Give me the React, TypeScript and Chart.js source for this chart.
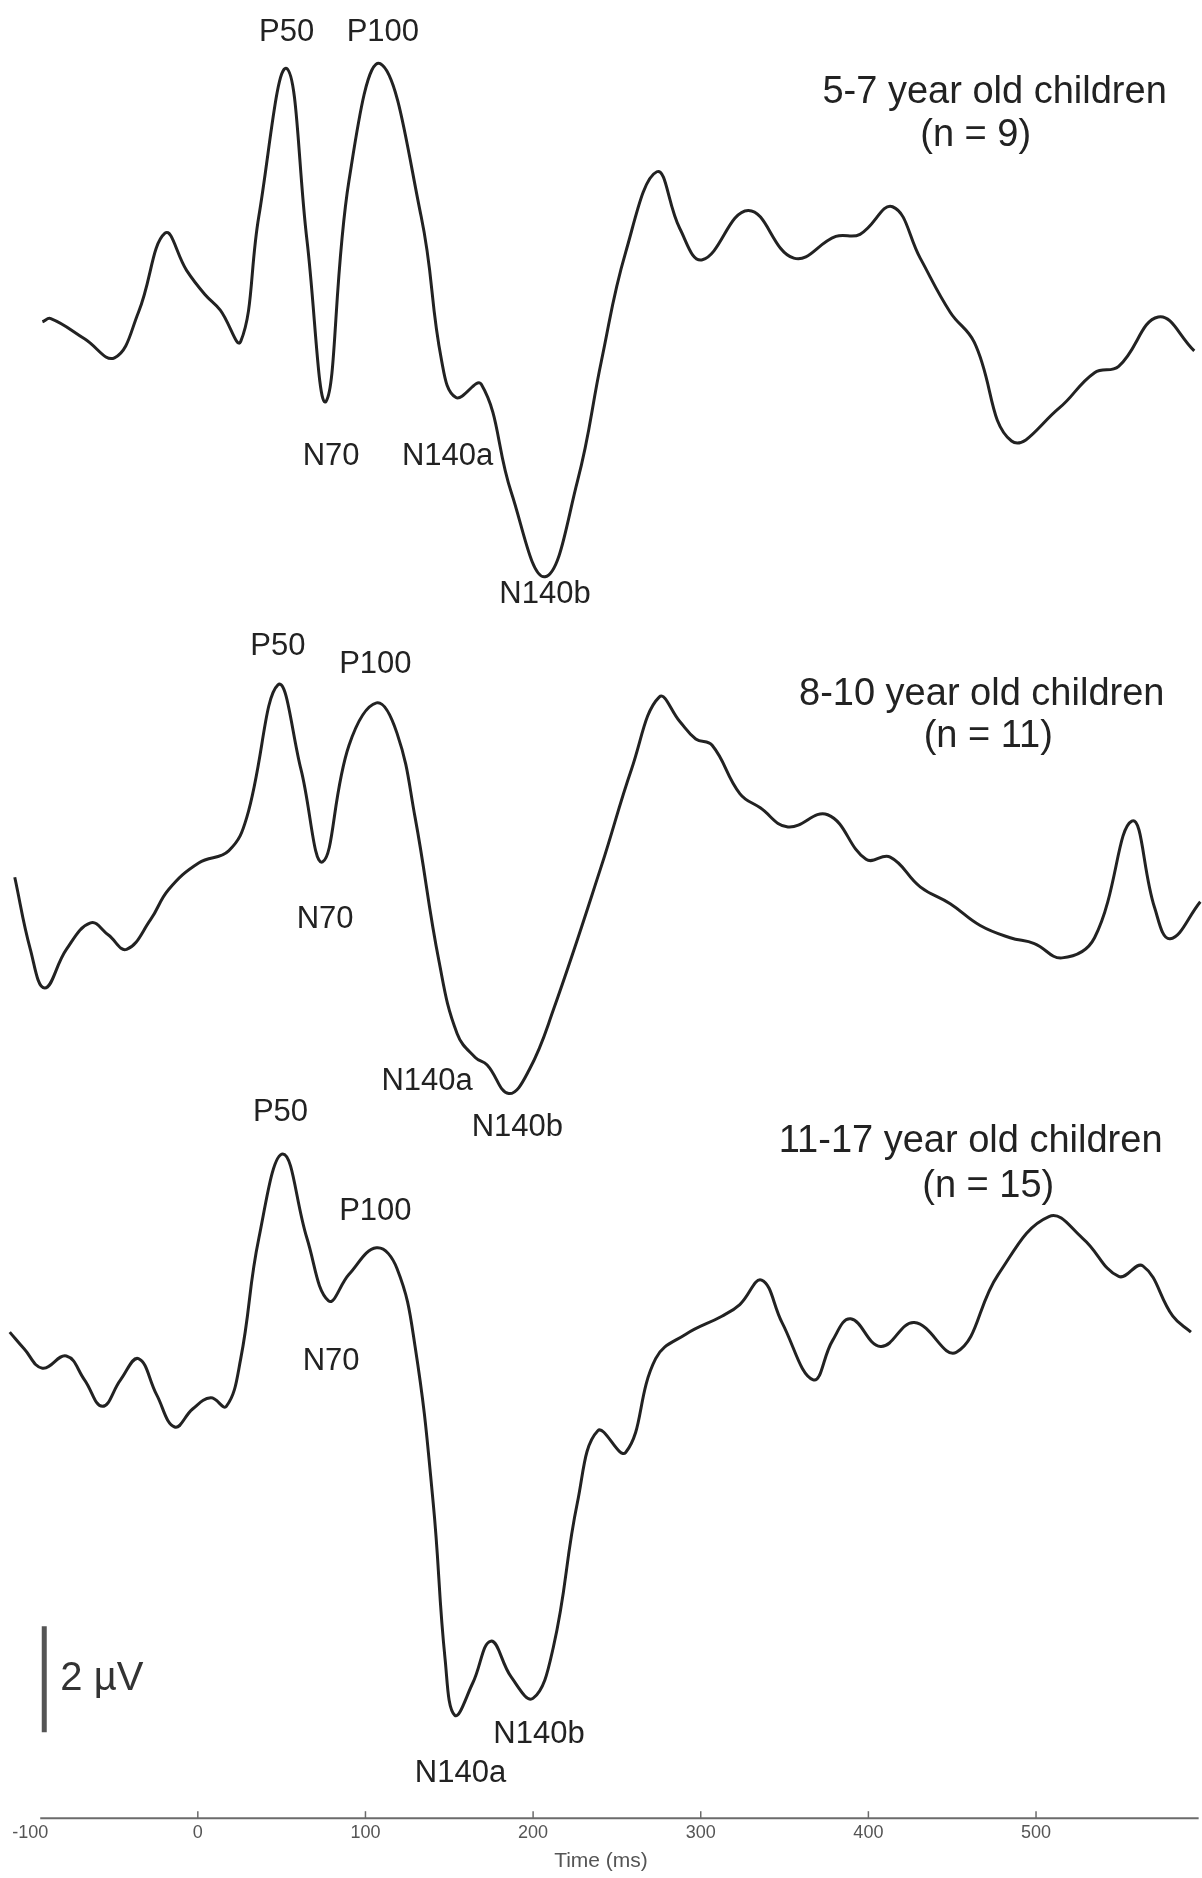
import React, { useEffect, useRef } from "react";
import { Chart, registerables } from "chart.js";

Chart.register(...registerables);

// ---------- data (time in ms, amplitude in µV relative to pre-stimulus level) ----------
const time57 = [-92.7, -87.7, -67.6, -49.7, -35.4, -19.6, -6.7, 4.1, 13.4, 25.6, 36.4, 52.9, 65.1, 76.5, 90.2, 108.8, 133.2, 145.4, 154.0, 169.1, 187.0, 207.1, 226.5, 240.8, 255.2, 273.8, 287.5, 301.0, 328.3, 355.5, 380.6, 395.0, 414.4, 430.9, 448.8, 463.2, 485.4, 513.4, 534.9, 549.3, 572.9, 594.4];
const uv57 = [0.05, 0.11, -0.27, -0.63, 0.23, 1.72, 1.02, 0.57, 0.27, -0.32, 2.04, 4.83, 1.59, -1.45, 2.72, 4.92, 2.04, -0.68, -1.38, -1.13, -3.17, -4.76, -2.95, -0.68, 1.36, 2.88, 1.81, 1.22, 2.15, 1.25, 1.66, 1.70, 2.22, 1.25, 0.23, -0.34, -2.20, -1.59, -0.91, -0.79, 0.14, -0.50];

const time810 = [-109.2, -99.9, -91.3, -78.4, -64.0, -53.3, -42.5, -28.2, -17.4, 0.5, 18.4, 29.2, 47.8, 61.5, 74.4, 90.2, 106.6, 118.8, 129.6, 143.9, 154.7, 165.5, 172.6, 185.5, 197.7, 212.1, 240.8, 258.7, 275.2, 287.5, 297.0, 306.8, 323.3, 335.5, 352.0, 375.7, 398.6, 413.0, 430.9, 448.8, 466.7, 484.6, 499.0, 515.5, 534.9, 557.1, 570.7, 580.0, 598.0];
const uv810 = [0.91, -0.45, -1.18, -0.45, 0.05, -0.18, -0.45, 0.11, 0.68, 1.18, 1.41, 2.04, 4.54, 2.95, 1.20, 3.40, 4.20, 3.63, 2.04, -0.68, -2.04, -2.49, -2.63, -3.17, -2.72, -1.59, 1.13, 2.95, 4.31, 3.85, 3.52, 3.40, 2.49, 2.22, 1.86, 2.09, 1.25, 1.29, 0.73, 0.41, 0.0, -0.23, -0.34, -0.61, -0.23, 1.97, 0.34, -0.25, 0.45];

const time1117 = [-112.2, -103.5, -92.7, -78.4, -67.6, -56.9, -46.1, -35.4, -24.6, -13.8, -3.1, 7.7, 17.0, 25.6, 36.4, 50.7, 65.1, 78.0, 90.2, 106.6, 118.8, 129.6, 140.4, 147.5, 153.3, 164.0, 174.8, 187.0, 199.9, 212.1, 226.4, 238.6, 255.2, 273.1, 291.1, 312.6, 323.3, 336.3, 348.5, 367.1, 378.6, 389.4, 407.3, 427.4, 452.5, 477.5, 507.7, 527.8, 549.3, 563.7, 581.6, 592.4];
const uv1117 = [0.95, 0.63, 0.27, 0.50, 0.05, -0.45, 0.05, 0.45, -0.23, -0.84, -0.50, -0.29, -0.45, 0.45, 2.72, 4.31, 2.72, 1.54, 2.04, 2.54, 2.15, 0.68, -2.27, -5.22, -6.28, -5.67, -4.88, -5.56, -5.96, -4.99, -2.27, -0.91, -1.32, 0.45, 0.91, 1.25, 1.47, 1.93, 1.13, 0.05, 0.79, 1.20, 0.68, 1.13, 0.57, 2.04, 3.13, 2.72, 2.00, 2.20, 1.25, 0.95];

const xTicks = [-100, 0, 100, 200, 300, 400, 500];

// component labels
const peakNames = ["P50", "P100", "N70", "N140a", "N140b"];
const peakTime57 = [53.0, 110.4, 79.5, 149.0, 207.1];
const peakUv57 = [5.51, 5.51, -2.49, -2.49, -5.10];
const peakTime810 = [47.8, 105.9, 75.9, 136.8, 190.6];
const peakUv810 = [5.26, 4.92, 0.11, -2.95, -3.81];
const peakTime1117 = [49.3, 105.9, 79.5, 156.7, 203.5];
const peakUv1117 = [5.10, 3.22, 0.39, -7.37, -6.64];

// group titles
const groupTitles = ["5-7 year old children", "8-10 year old children", "11-17 year old children"];
const groupN = ["(n = 9)", "(n = 11)", "(n = 15)"];
const titleTime = [475.3, 467.6, 461.0];
const titleUv = [4.38, 4.35, 4.54];
const nTime = [464.0, 471.5, 471.5];
const nUv = [3.56, 3.56, 3.70];

// 2 µV calibration bar (drawn on the bottom panel's scale)
const scaleBarTime = [-91.6, -91.6];
const scaleBarUv = [-4.6, -6.6];
const scaleBarLabel = "2 µV";
const scaleBarLabelTime = -82;
const scaleBarLabelUv = -5.6;

// panel scales: top of each panel's µV axis, shared span
const panelTopUv = [6.12, 17.46, 26.08];
const PANEL_SPAN_UV = 34.3;
const X_MIN = -118;
const X_MAX = 599;
const AXIS_START = -94;
const AXIS_END = 597;

const FONT = '"Liberation Sans", Arial, Helvetica, sans-serif';
const INK = "#222";

export default function App() {
  const ref = useRef<HTMLCanvasElement>(null);

  useEffect(() => {
    const canvas = ref.current;
    if (!canvas) return;

    const toXY = (t: number[], v: number[]) => t.map((x, i) => ({ x, y: v[i] }));

    const traceStyle = {
      borderColor: INK,
      borderWidth: 3,
      pointRadius: 0,
      fill: false,
      tension: 0.42,
      borderJoinStyle: "round" as const,
    };

    const panels = [
      { axis: "y1", pt: peakTime57, pv: peakUv57 },
      { axis: "y2", pt: peakTime810, pv: peakUv810 },
      { axis: "y3", pt: peakTime1117, pv: peakUv1117 },
    ];

    const annotPlugin = {
      id: "erpAnnotations",
      afterDatasetsDraw(chart: any) {
        const ctx = chart.ctx as CanvasRenderingContext2D;
        const xs = chart.scales.x;
        const yb = chart.chartArea.bottom;
        ctx.save();
        // time axis line + upward ticks
        ctx.strokeStyle = "#6b6b6b";
        ctx.lineWidth = 2;
        ctx.beginPath();
        ctx.moveTo(xs.getPixelForValue(AXIS_START), yb);
        ctx.lineTo(xs.getPixelForValue(AXIS_END), yb);
        ctx.stroke();
        ctx.lineWidth = 1.5;
        xTicks.forEach((v) => {
          if (v < AXIS_START) return;
          const px = xs.getPixelForValue(v);
          ctx.beginPath();
          ctx.moveTo(px, yb);
          ctx.lineTo(px, yb - 7);
          ctx.stroke();
        });

        ctx.fillStyle = INK;
        ctx.textBaseline = "middle";
        ctx.textAlign = "center";
        // component labels
        ctx.font = `31px ${FONT}`;
        panels.forEach((p) => {
          const ys = chart.scales[p.axis];
          peakNames.forEach((name, i) => {
            ctx.fillText(name, xs.getPixelForValue(p.pt[i]), ys.getPixelForValue(p.pv[i]));
          });
        });
        // group titles
        ctx.font = `38px ${FONT}`;
        panels.forEach((p, k) => {
          const ys = chart.scales[p.axis];
          ctx.fillText(groupTitles[k], xs.getPixelForValue(titleTime[k]), ys.getPixelForValue(titleUv[k]));
          ctx.fillText(groupN[k], xs.getPixelForValue(nTime[k]), ys.getPixelForValue(nUv[k]));
        });
        // scale bar label
        ctx.textAlign = "left";
        ctx.font = `40px ${FONT}`;
        ctx.fillStyle = "#333";
        ctx.fillText(
          scaleBarLabel,
          xs.getPixelForValue(scaleBarLabelTime),
          chart.scales.y3.getPixelForValue(scaleBarLabelUv)
        );
        ctx.restore();
      },
    };

    const yAxis = (k: number) => ({
      type: "linear" as const,
      display: false,
      min: panelTopUv[k] - PANEL_SPAN_UV,
      max: panelTopUv[k],
    });

    const chart = new Chart(canvas, {
      type: "line",
      data: {
        datasets: [
          { ...traceStyle, label: groupTitles[0], data: toXY(time57, uv57), yAxisID: "y1" },
          { ...traceStyle, label: groupTitles[1], data: toXY(time810, uv810), yAxisID: "y2" },
          { ...traceStyle, label: groupTitles[2], data: toXY(time1117, uv1117), yAxisID: "y3" },
          {
            label: scaleBarLabel,
            data: toXY(scaleBarTime, scaleBarUv),
            yAxisID: "y3",
            borderColor: "#555",
            borderWidth: 5,
            pointRadius: 0,
            tension: 0,
            borderCapStyle: "butt",
          },
        ],
      },
      options: {
        animation: false,
        responsive: false,
        devicePixelRatio: 1,
        layout: { padding: { left: 0, right: 0, top: 0, bottom: 4 } },
        plugins: { legend: { display: false }, tooltip: { enabled: false } },
        scales: {
          x: {
            type: "linear",
            min: X_MIN,
            max: X_MAX,
            afterBuildTicks: (s: any) => {
              s.ticks = xTicks.map((value) => ({ value }));
            },
            grid: { display: false, drawTicks: false },
            border: { display: false },
            ticks: {
              color: "#555",
              font: { family: FONT, size: 18 },
              padding: 4,
              maxRotation: 0,
              autoSkip: false,
              callback: (v: any) => String(v),
            },
            title: {
              display: true,
              text: "Time (ms)",
              color: "#555",
              font: { family: FONT, size: 21 },
              padding: { top: 1, bottom: 0 },
            },
          },
          y1: yAxis(0),
          y2: yAxis(1),
          y3: yAxis(2),
        },
      },
      plugins: [annotPlugin],
    } as any);

    return () => chart.destroy();
  }, []);

  return (
    <div style={{ position: "absolute", left: 0, top: 0, width: 1202, height: 1878, background: "#fff" }}>
      <canvas ref={ref} width={1202} height={1878} style={{ display: "block", width: 1202, height: 1878 }} />
    </div>
  );
}
